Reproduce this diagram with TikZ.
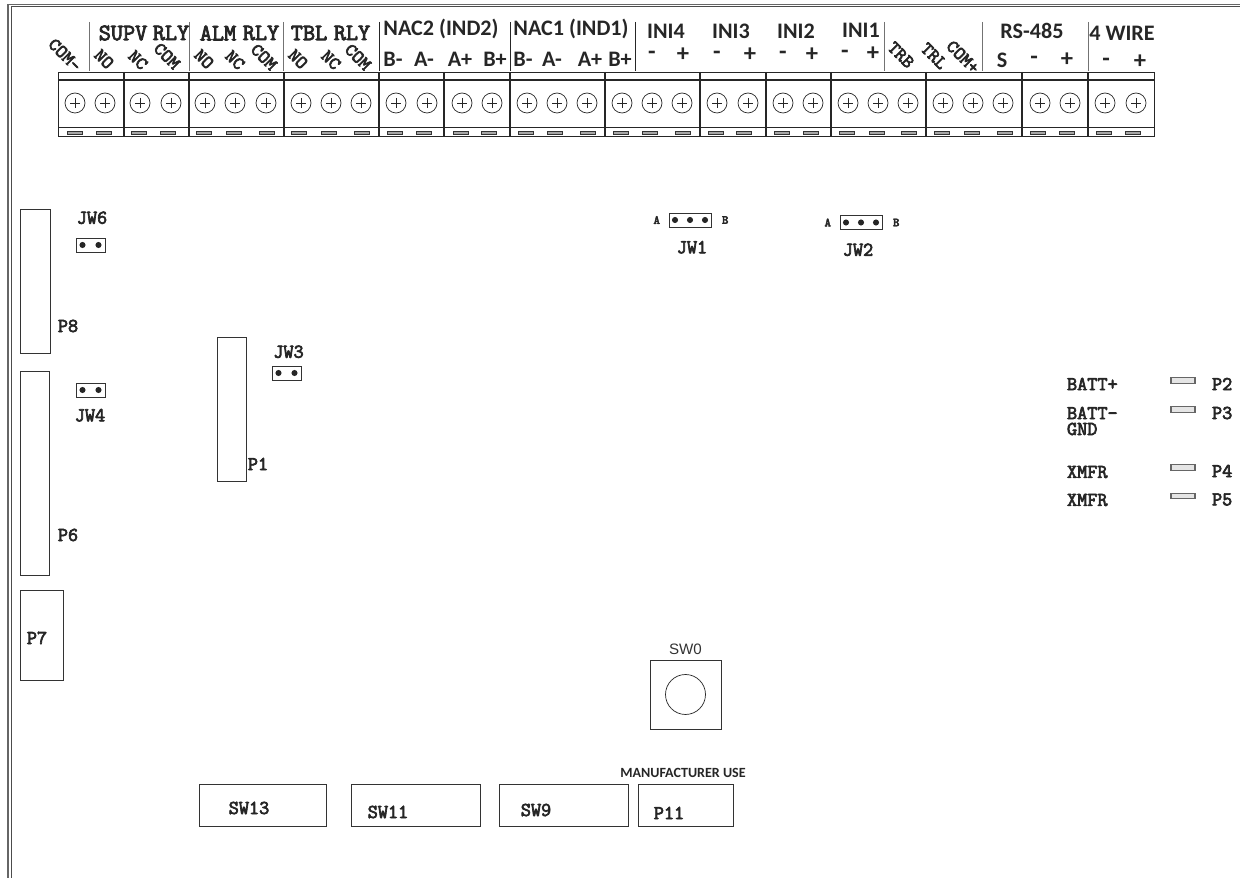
\documentclass[tikz,border=0pt]{standalone}
\usepackage{fontspec}
\setmainfont{Carlito}
\newfontfamily\armfont{Liberation Sans}
\newfontfamily\slabfont[FakeBold=3.5]{Latin Modern Mono}
\usetikzlibrary{positioning}
\tikzset{x=0.02cm, y=-0.02cm, minimum size=0pt, inner sep=0pt, outer sep=0pt, font=\fontsize{12}{12}\selectfont}
\tikzstyle{part} = [draw=black!80, fill=white, rectangle, line width=0.5pt, anchor=north west]
\tikzstyle{pin} = [draw=black!85, fill=black!85, circle, minimum size=3pt]
\tikzstyle{screw} = [draw=black!85, fill=white, circle, minimum size=0.4cm, line width=0.4pt]
\tikzstyle{tab} = [draw=black!80, fill=black!35, rectangle, minimum width=0.3cm, minimum height=0.05cm, line width=0.4pt]
\tikzstyle{lead} = [draw=black!60, fill=black!10, rectangle, minimum width=0.48cm, minimum height=0.11cm, line width=0.6pt]
\tikzstyle{slab} = [font=\slabfont\fontsize{11.2}{11}\selectfont, text=black!85]
\tikzstyle{slabsmall} = [font=\slabfont\fontsize{7}{7}\selectfont, text=black!85]
\tikzstyle{slabbig} = [font=\slabfont\fontsize{13.4}{13}\selectfont, text=black!85]
\tikzstyle{slant} = [font=\slabfont\fontsize{10.5}{10}\selectfont, text=black!85, rotate=-45]
\tikzstyle{sans} = [font=\fontsize{12.6}{13}\selectfont\bfseries, text=black!85]
\tikzstyle{sign} = [font=\fontsize{14}{14}\selectfont\bfseries, text=black!85]
\begin{document}
\begin{tikzpicture}
		\useasboundingbox (0,0) rectangle (1240,878);

		% board outline
		\coordinate (frame_a) at (8,878);
		\coordinate (frame_b) at (11,878);
		\coordinate (frame_c) at (1240,4.5);
		\draw [black!60, line width=0.7pt] (frame_a) |- (frame_c);
		\draw [black!70, line width=0.4pt] (frame_b) |- (1240,6);

		% terminal strip
		\coordinate (strip_a) at (58,72);
		\coordinate (strip_b) at (1154,136);
		\draw [black!85, line width=0.5pt] (strip_a) rectangle (strip_b);
		\draw [black!85, line width=0.9pt] (58,80) -- (1154,80);
		\draw [black!85, line width=0.6pt] (58,127.5) -- (1154,127.5);
		\foreach \i/\xx in {a/124, b/189, c/284, d/379, e/444, f/510, g/605, h/700, i/766, j/831, k/926, l/1022, m/1088} {
			\coordinate (div_\i) at (\xx,72);
			\draw [black!85, line width=0.7pt] (div_\i) -- (\xx,136);
		}
		\foreach \i/\xs/\xt in {1/75/75, 2/105/104, 3/140/139, 4/171/168, 5/205/204, 6/235/234, 7/266/267, 8/301/299, 9/331/329, 10/361/362,
			11/396/395, 12/427/424, 13/462/461, 14/492/489, 15/527/526, 16/557/555, 17/587/588, 18/622/621, 19/652/650, 20/682/683,
			21/717/716, 22/748/744, 23/783/782, 24/813/811, 25/848/847, 26/878/877, 27/908/909, 28/943/942, 29/973/972, 30/1003/1005,
			31/1040/1038, 32/1070/1067, 33/1105/1104, 34/1136/1133} {
			\node [screw] (s\i) at (\xs,103) {};
			\draw [black!85, line width=0.3pt] (s\i.center) +(-5,0) -- +(5,0) (s\i.center) +(0,-5) -- +(0,5);
			\node [tab] (t\i) at (\xt,133) {};
		}

		% header separators
		\foreach \i/\xx/\col in {a/89.5/black!55, b/189.5/black!55, c/283.5/black!55, d/379/black!85, e/510/black!85, f/635/black!85, g/884/black!55, h/982/black!55, i/1088/black!55} {
			\coordinate (sep_\i) at (\xx,22);
			\draw [\col, line width=0.5pt] (sep_\i) -- (\xx,71);
		}

		% header titles
		\node [slabbig] (t_supv) at (123,33) {SUPV};
		\node [slabbig] (t_srly) at (171,33) {RLY};
		\node [slabbig] (t_alm) at (218,33) {ALM};
		\node [slabbig] (t_arly) at (261,33) {RLY};
		\node [slabbig] (t_tbl) at (309,33) {TBL};
		\node [slabbig] (t_trly) at (352,33) {RLY};
		\node [sans] (t_nac2) at (441,29) {NAC2 (IND2)};
		\node [sans] (t_nac1) at (571,29) {NAC1 (IND1)};
		\node [sans] (t_ini4) at (666,31) {INI4};
		\node [sans] (t_ini3) at (731,31) {INI3};
		\node [sans] (t_ini2) at (796,31) {INI2};
		\node [sans] (t_ini1) at (861,30) {INI1};
		\node [sans] (t_rs) at (1032,31) {RS-485};
		\node [sans] (t_wire) at (1122,33) {4 WIRE};

		% slanted terminal names
		\foreach \i/\xx/\yy/\txt in {a/65/55/COM-, b/104/59/NO, c/138/60/NC, d/167/56/COM, e/204/59/NO, f/235/60/NC, g/264/57/COM,
			h/298/59/NO, i/331/60/NC, j/358/57/COM, k/901/55/TRB, l/934/56/TRL, m/963/57/COM+}
			\node [slant] (n_\i) at (\xx,\yy) {\txt};

		% upright terminal names
		\foreach \i/\xx/\yy/\txt in {a/393/59/B-, b/424/59/A-, c/460/59/A+, d/495/59/B+, e/523/59/B-, f/552/59/A-, g/590/59/A+, h/620/59/B+,
			i/1002/60/S}
			\node [sans] (u_\i) at (\xx,\yy) {\txt};
		\foreach \i/\xx/\yy/\txt in {a/652/55/-, b/683/55/+, c/717/55/-, d/750/55/+, e/783/55/-, f/812/55/+, g/845/54/-, h/873/54/+,
			i/1034/60/-, j/1067/60/+, k/1106/62/-, l/1140/62/+}
			\node [sign] (v_\i) at (\xx,\yy) {\txt};

		% left connectors
		\node [part, minimum width=0.6cm, minimum height=2.88cm] (p8) at (20,209) {};
		\node [part, minimum width=0.58cm, minimum height=4.08cm] (p6) at (20,371) {};
		\node [part, minimum width=0.86cm, minimum height=1.8cm] (p7) at (20,590) {};
		\node [part, minimum width=0.58cm, minimum height=2.88cm] (p1) at (217,337) {};
		\node [slab] (l_p8) at (68,326) {P8};
		\node [slab] (l_p6) at (68,535) {P6};
		\node [slab] (l_p7) at (37,638) {P7};
		\node [slab] (l_p1) at (258,464) {P1};

		% two pin jumpers
		\foreach \i/\xx/\yy in {6/76/238, 4/76/383, 3/272/366} {
			\node [part, minimum width=0.58cm, minimum height=0.28cm] (jw\i) at (\xx,\yy) {};
			\node [pin] (jw\i_a) at ([xshift=-0.16cm]jw\i.center) {};
			\node [pin] (jw\i_b) at ([xshift=0.16cm]jw\i.center) {};
		}
		\node [slab, above=0.28cm of jw6, xshift=0.03cm] (l_jw6) {JW6};
		\node [slab, below=0.24cm of jw4, xshift=-0.01cm] (l_jw4) {JW4};
		\node [slab, above=0.16cm of jw3, xshift=0.04cm] (l_jw3) {JW3};

		% three pin jumpers
		\foreach \i/\xx/\yy/\sh in {1/669/213/0.04cm, 2/840/215.5/-0.06cm} {
			\node [part, minimum width=0.84cm, minimum height=0.28cm] (jw\i) at (\xx,\yy) {};
			\node [pin] (jw\i_b) at (jw\i.center) {};
			\node [pin] (jw\i_a) at ([xshift=-0.3cm]jw\i.center) {};
			\node [pin] (jw\i_c) at ([xshift=0.3cm]jw\i.center) {};
			\node [slabsmall, left=0.18cm of jw\i] (a_jw\i) {A};
			\node [slabsmall, right=0.22cm of jw\i] (b_jw\i) {B};
			\node [slab, below=0.28cm of jw\i, xshift=\sh] (l_jw\i) {JW\i};
		}

		% battery and transformer leads
		\foreach \i/\yy in {2/380.5, 3/409.5, 4/467.5, 5/496} {
			\node [lead] (lead\i) at (1183,\yy) {};
			\node [slab, right=0.34cm of lead\i, yshift=-0.07cm] (l_p\i) {P\i};
		}
		\node [slab, anchor=west] (l_batp) at (1067,384) {BATT+};
		\node [slab, anchor=west] (l_batm) at (1067,413) {BATT-};
		\node [slab, anchor=west] (l_gnd) at (1067,429) {GND};
		\node [slab, anchor=west] (l_xa) at (1067,472) {XMFR};
		\node [slab, anchor=west] (l_xb) at (1067,500) {XMFR};

		% push button
		\node [part, minimum width=1.42cm, minimum height=1.38cm] (sw0) at (650,660) {};
		\node [draw=black!85, circle, minimum size=0.8cm, line width=0.4pt] (sw0_c) at (sw0.center) {};
		\node [above=0.1cm of sw0, font=\armfont\fontsize{8.6}{8}\selectfont, text=black!80] (l_sw0) {SW0};

		% bottom row
		\node [part, minimum width=2.54cm, minimum height=0.84cm] (sw13) at (199,784) {};
		\node [part, minimum width=2.58cm, minimum height=0.84cm] (sw11) at (351,784) {};
		\node [part, minimum width=2.58cm, minimum height=0.84cm] (sw9) at (499,784) {};
		\node [part, minimum width=1.9cm, minimum height=0.84cm] (p11) at (638,784) {};
		\node [slab] (l_sw13) at (249,808) {SW13};
		\node [slab] (l_sw11) at (388,812) {SW11};
		\node [slab] (l_sw9) at (536,810) {SW9};
		\node [slab] (l_p11) at (669,813) {P11};
		\node [font=\fontsize{8}{8}\selectfont\bfseries, text=black!85] (l_man) at (683,773) {MANUFACTURER USE};
	\end{tikzpicture}
\end{document}
